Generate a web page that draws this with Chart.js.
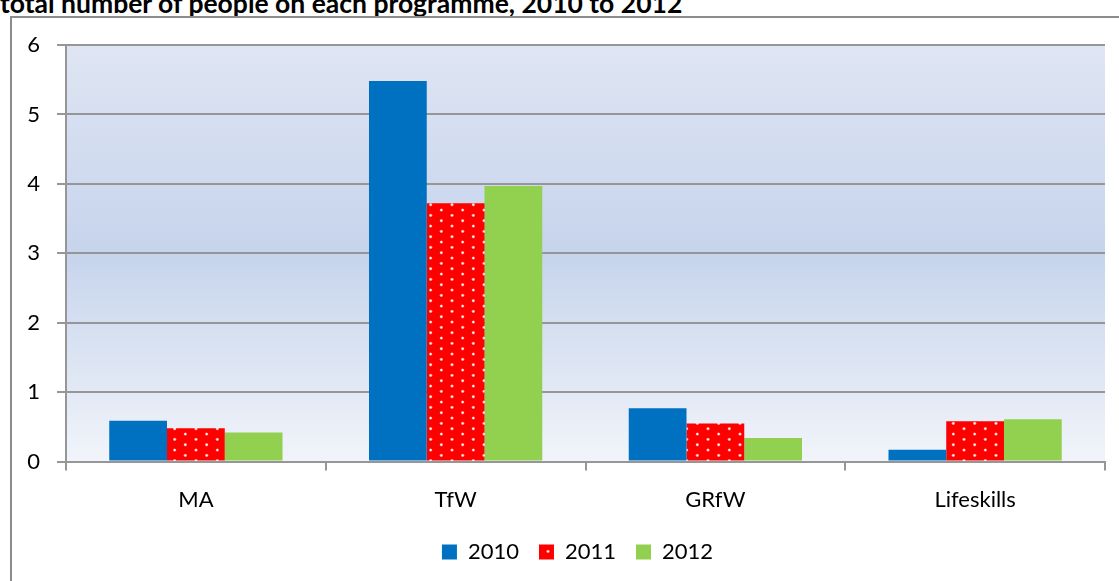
<!DOCTYPE html>
<html>
<head>
<meta charset="utf-8">
<script src="https://cdn.jsdelivr.net/npm/chart.js@4"></script>
<style>
  body { margin: 0; width: 1119px; height: 581px; overflow: hidden; background: #fff; position: relative; }
  #title { position: absolute; left: 0; top: -12px; font: bold 26.5px Lato, sans-serif; line-height: 1.2; color: #000; white-space: nowrap; }
  #frame { position: absolute; left: 10px; top: 16px; width: 1120px; height: 600px; border: 2px solid #8c8c8c; box-sizing: border-box; }
  #wrap { position: absolute; left: 0; top: 0; width: 1119px; height: 581px; }
</style>
</head>
<body>
<div id="title">total number of people on each programme, 2010 to 2012</div>
<div id="frame"></div>
<div id="wrap"><canvas id="people-chart"></canvas></div>
<script>
// Data
const programmes = ['MA', 'TfW', 'GRfW', 'Lifeskills'];
const years = ['2010', '2011', '2012'];
const values2010 = [0.59, 5.48, 0.77, 0.17];
const values2011 = [0.48, 3.72, 0.55, 0.58];
const values2012 = [0.42, 3.97, 0.34, 0.61];
const yTicks = [0, 1, 2, 3, 4, 5, 6];

// Red fill with small white dots (staggered)
function dotPattern() {
  const c = document.createElement('canvas');
  c.width = 64; c.height = 32;
  const g = c.getContext('2d');
  g.fillStyle = '#ff0000';
  g.fillRect(0, 0, 64, 32);
  const px = 64 / 3, py = 32 / 3;
  for (let i = 0; i < 3; i++) {
    for (let j = 0; j < 3; j++) {
      const pts = [[i * px + 4, j * py + 2], [i * px + 4 + px / 2, j * py + 2 + py / 2]];
      pts.forEach(function(p) {
        g.fillStyle = 'rgba(255,190,190,0.8)';
        g.beginPath(); g.arc(p[0], p[1], 1.6, 0, Math.PI * 2); g.fill();
        g.fillStyle = '#ffffff';
        g.beginPath(); g.arc(p[0], p[1], 0.9, 0, Math.PI * 2); g.fill();
      });
    }
  }
  return document.createElement('canvas').getContext('2d').createPattern(c, 'repeat');
}

// Gradient behind the plot area
const plotBackground = {
  id: 'plotBackground',
  beforeDraw(chart) {
    const ctx = chart.ctx;
    const a = chart.chartArea;
    const grad = ctx.createLinearGradient(0, a.top, 0, a.bottom);
    grad.addColorStop(0, '#dfe5f3');
    grad.addColorStop(0.5, '#c6d4ec');
    grad.addColorStop(1, '#f1f4fa');
    ctx.save();
    ctx.fillStyle = grad;
    ctx.fillRect(a.left, a.top, a.width, a.height);
    ctx.restore();
  }
};

// The legend sits a little right of centre (centred in the wider frame)
const legendShift = {
  id: 'legendShift',
  afterLayout(chart) {
    if (chart.legend) chart.legend.left += 50;
  }
};

const gridGrey = '#969696';
const font = { family: 'Lato, sans-serif', size: 22 };

new Chart(document.getElementById('people-chart'), {
  type: 'bar',
  data: {
    labels: programmes,
    datasets: [
      { label: years[0], data: values2010, backgroundColor: '#0070c0' },
      { label: years[1], data: values2011, backgroundColor: dotPattern() },
      { label: years[2], data: values2012, backgroundColor: '#92d050' }
    ]
  },
  options: {
    responsive: true,
    maintainAspectRatio: false,
    animation: false,
    categoryPercentage: 0.667,
    barPercentage: 1,
    layout: { padding: { left: 0, right: 14, top: 45, bottom: 8 } },
    scales: {
      x: {
        afterFit(scale) { scale.height -= 8; },   // tighten gap to the legend
        grid: { display: true, drawOnChartArea: false, color: gridGrey, lineWidth: 2, tickLength: 9 },
        border: { color: gridGrey, width: 2 },
        ticks: { color: '#000', font: font, padding: 16 }
      },
      y: {
        min: 0,
        max: 6,
        afterFit(scale) { scale.width = 66; },
        afterBuildTicks(scale) { scale.ticks = yTicks.map(v => ({ value: v })); },
        grid: { color: gridGrey, lineWidth: 2, tickLength: 9 },
        border: { color: gridGrey, width: 2 },
        ticks: { color: '#000', font: font, padding: 17 }
      }
    },
    plugins: {
      legend: {
        position: 'bottom',
        labels: { color: '#000', font: font, boxWidth: 15, boxHeight: 15, padding: 20 }
      },
      tooltip: { enabled: false }
    }
  },
  plugins: [plotBackground, legendShift]
});
</script>
</body>
</html>
